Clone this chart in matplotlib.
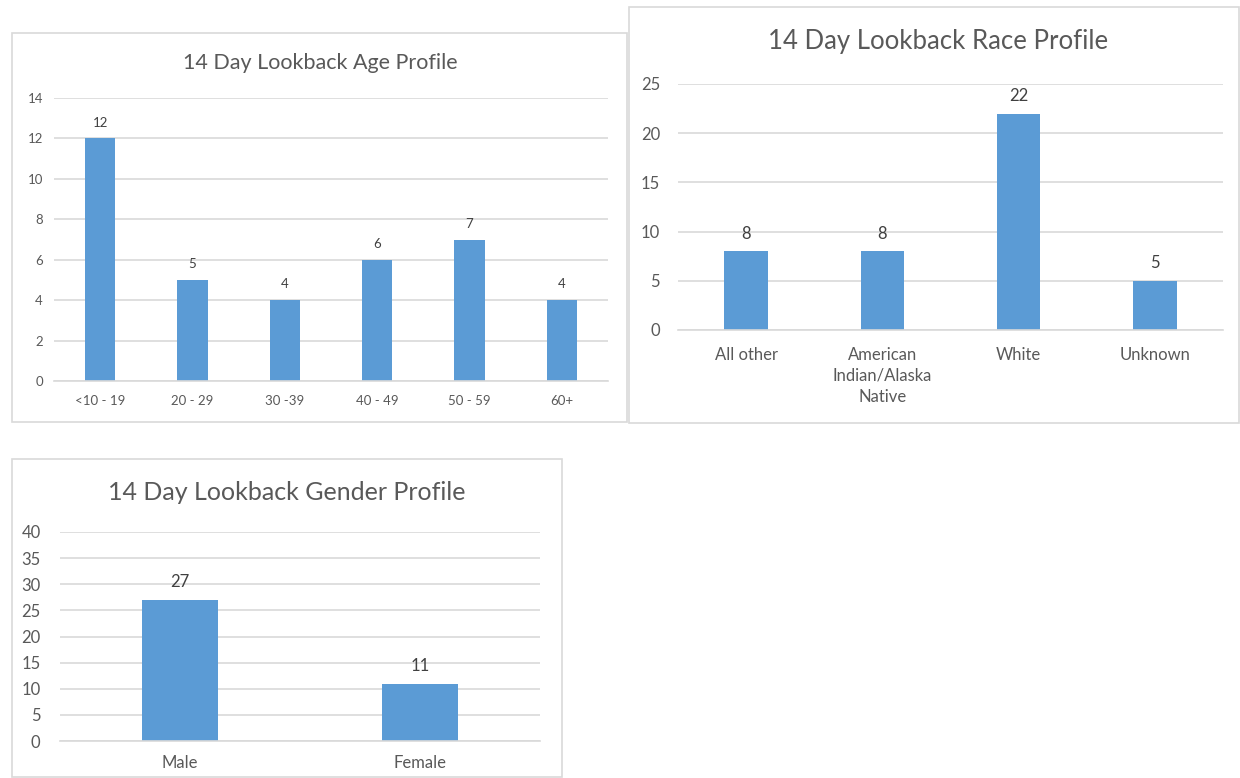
import matplotlib.pyplot as plt
from matplotlib.patches import Rectangle

plt.rcParams["font.family"] = ["Lato", "DejaVu Sans"]

age_labels = ["<10 - 19", "20 - 29", "30 -39", "40 - 49", "50 - 59", "60+"]
age_counts = [12, 5, 4, 6, 7, 4]

race_labels = ["All other", "American\nIndian/Alaska\nNative", "White", "Unknown"]
race_counts = [8, 8, 22, 5]

gender_labels = ["Male", "Female"]
gender_counts = [27, 11]

BAR = "#5B9BD5"
GRID = "#D9D9D9"
TXT = "#595959"
W, H = 1240, 778


def px_box(x0, y0, x1, y1):
    # pixel box (top-left origin) -> figure fraction rect
    return [x0 / W, 1 - y1 / H, (x1 - x0) / W, (y1 - y0) / H]


fig = plt.figure(figsize=(12.4, 7.78), dpi=100)

# chart frames
for x0, y0, x1, y1 in [(12, 33, 627, 422), (629, 7, 1239, 423), (12, 459, 562, 777)]:
    l, b, w, h = px_box(x0, y0, x1, y1)
    fig.patches.append(Rectangle((l, b), w, h, transform=fig.transFigure,
                                 fill=False, edgecolor=GRID, lw=1.2, zorder=0))


def bar_panel(rect, labels, counts, ymax, step, title, title_xy, tsize, fsize, width, ypad, xpad):
    ax = fig.add_axes(px_box(*rect))
    x = range(len(labels))
    ax.bar(x, counts, width=width, color=BAR, zorder=2)
    ax.set_xlim(-0.5, len(labels) - 0.5)
    ax.set_ylim(0, ymax)
    ax.set_yticks(range(0, ymax + 1, step))
    ax.set_xticks(list(x))
    ax.set_xticklabels(labels, linespacing=1.4)
    ax.yaxis.grid(True, color=GRID, lw=1.2, zorder=0)
    for s in ["left", "right", "top"]:
        ax.spines[s].set_visible(False)
    ax.spines["bottom"].set_color(GRID)
    ax.spines["bottom"].set_linewidth(1.2)
    ax.tick_params(length=0, colors=TXT, labelsize=fsize)
    ax.tick_params(axis="y", pad=ypad)
    ax.tick_params(axis="x", pad=xpad)
    for i, v in enumerate(counts):
        ax.annotate(str(v), (i, v), xytext=(0, 7), textcoords="offset points",
                    ha="center", va="bottom", color="#404040", fontsize=fsize)
    fig.text(title_xy[0] / W, 1 - title_xy[1] / H, title,
             ha="center", va="center", fontsize=tsize, color=TXT)
    return ax


bar_panel((54, 98, 608, 381), age_labels, age_counts, 14, 2,
          "14 Day Lookback Age Profile", (320, 63), 15.5, 9.5, 0.33, 8, 10)
bar_panel((678, 84, 1223, 330), race_labels, race_counts, 25, 5,
          "14 Day Lookback Race Profile", (938, 42), 18.5, 12, 0.32, 13, 12)
bar_panel((60, 532, 540, 741), gender_labels, gender_counts, 40, 5,
          "14 Day Lookback Gender Profile", (287, 492), 18, 12, 0.32, 14, 10)

fig.savefig("out.png", dpi=100)
